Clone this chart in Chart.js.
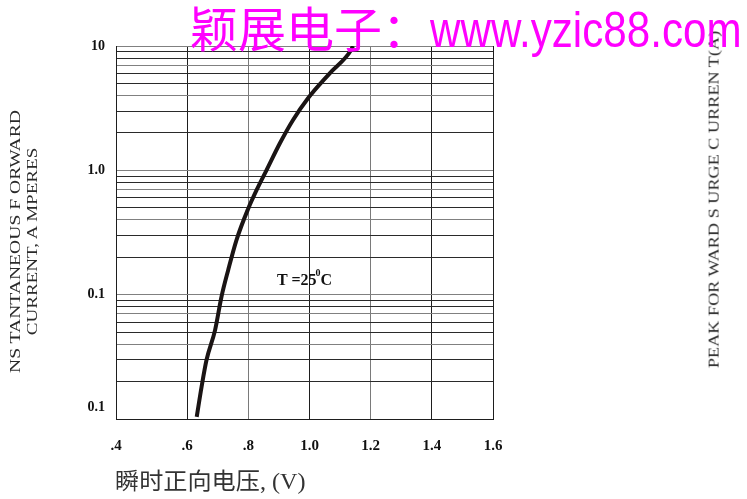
<!DOCTYPE html>
<html>
<head>
<meta charset="utf-8">
<script src="https://cdn.jsdelivr.net/npm/chart.js@4.4.1/dist/chart.umd.min.js"></script>
<style>
    body { margin: 0; background: #fff; }
    #wrap { position: relative; width: 747px; height: 499px; overflow: hidden; background: #fff; }
    #wrap canvas { position: absolute; left: 0; top: 0; }
    .lbl { position: absolute; white-space: nowrap; font-family: 'Liberation Serif', 'Times New Roman', serif; color: #2a2a2a; }
    .rot { transform-origin: center center; }
    .fit { transform-origin: left top; }
    .wm { color: #ff00ff; z-index: 5; }
    #wmCjk { left: 190px; top: 2px; font-family: 'Noto Sans CJK SC', sans-serif; font-size: 48px; line-height: 48px; }
    #wmUrl { left: 430px; top: 5px; font-family: 'Liberation Sans', Arial, sans-serif; font-size: 50px; line-height: 50px; }
    #temp { left: 277px; top: 270px; font-weight: bold; font-size: 16px; color: #111; }
    #temp sup { font-size: 10px; position: relative; top: -3px; margin-left: -1px; }
    #xtitle { left: 115px; top: 469px; font-size: 23px; line-height: 26px; font-family: 'Liberation Serif', 'Noto Sans CJK SC', serif; color: #333; }
</style>
</head>
<body>
<div id="wrap">
    <canvas id="ivChart" width="747" height="499"></canvas>
    <div class="lbl wm fit" id="wmCjk" data-len="240">颖展电子：</div>
    <div class="lbl wm fit" id="wmUrl" data-len="312">www.yzic88.com</div>
    <div class="lbl rot" data-cx="15" data-cy="241" data-len="263" style="font-size:15px">NS TANTANEOUS F ORWARD</div>
    <div class="lbl rot" data-cx="33" data-cy="241" data-len="188" style="font-size:15px">CURRENT, A MPERES</div>
    <div class="lbl rot" data-cx="714" data-cy="199" data-len="337" style="font-size:15px">PEAK FOR WARD S URGE C URREN T(A)</div>
    <div class="lbl" id="temp">T =25<sup>0</sup>C</div>
    <div class="lbl fit" id="xtitle" data-len="190">瞬时正向电压, (V)</div>
</div>
<script>
// Forward voltage (V) vs instantaneous forward current (A)
const voltage = [0.631, 0.647, 0.663, 0.691, 0.712, 0.734, 0.761, 0.799, 0.827, 0.859, 0.903, 0.946, 0.995, 1.066, 1.136, 1.142];
const current = [0.0104, 0.0182, 0.0298, 0.0519, 0.0962, 0.158, 0.275, 0.489, 0.695, 1.0, 1.65, 2.54, 3.80, 6.03, 9.29, 10];

// Axis ticks as printed on the sheet (left edge is drawn as ".4")
const xTickValues = [0.367, 0.6, 0.8, 1.0, 1.2, 1.4, 1.6];
const xTickLabels = ['.4', '.6', '.8', '1.0', '1.2', '1.4', '1.6'];
const yLabelValues = [10, 1, 0.1, 0.0125];
const yTickLabels = ['10', '1.0', '0.1', '0.1'];
const yDecades = [0.01, 0.1, 1];

document.addEventListener('DOMContentLoaded', function () {
    // log grid lines 1..9 per decade, plus the top line
    const yGrid = [];
    yDecades.forEach(d => {
        for (let m = 1; m <= 9; m++) yGrid.push(+(m * d).toPrecision(3));
    });
    yGrid.push(10);
    const yAll = yGrid.concat(yLabelValues.filter(v => !yGrid.includes(v))).sort((a, b) => a - b);

    const serif = "'Liberation Serif', 'Times New Roman', serif";

    new Chart(document.getElementById('ivChart'), {
        type: 'line',
        data: {
            datasets: [{
                data: voltage.map((v, i) => ({ x: v, y: current[i] })),
                borderColor: '#1a1414',
                borderWidth: 4,
                pointRadius: 0,
                cubicInterpolationMode: 'monotone',
                fill: false
            }]
        },
        options: {
            responsive: false,
            animation: false,
            layout: { padding: { top: 46, right: 254, left: 0, bottom: 0 } },
            plugins: { legend: { display: false }, tooltip: { enabled: false } },
            scales: {
                x: {
                    type: 'linear',
                    min: 0.367,
                    max: 1.6,
                    afterFit: scale => { scale.height = 80; },
                    afterBuildTicks: scale => { scale.ticks = xTickValues.map(v => ({ value: v })); },
                    grid: {
                        drawTicks: false,
                        color: ctx => (ctx.tick && (ctx.tick.value === 0.8 || ctx.tick.value === 1.2)) ? '#7a7a7a' : '#1e1e1e',
                        lineWidth: 1
                    },
                    border: { display: true, color: '#1e1e1e', width: 1 },
                    ticks: {
                        padding: 18,
                        color: '#111',
                        font: { family: serif, size: 15, weight: 'bold' },
                        autoSkip: false,
                        maxRotation: 0,
                        callback: (value, i) => xTickLabels[i]
                    }
                },
                y: {
                    type: 'logarithmic',
                    min: 0.01,
                    max: 10,
                    afterFit: scale => { scale.width = 116; },
                    afterBuildTicks: scale => { scale.ticks = yAll.map(v => ({ value: v })); },
                    grid: {
                        drawTicks: false,
                        color: ctx => {
                            if (!ctx.tick) return '#2a2a2a';
                            if (!yGrid.includes(ctx.tick.value)) return 'rgba(0,0,0,0)';
                            return (ctx.index % 3 === 1) ? '#808080' : '#2a2a2a';
                        },
                        lineWidth: 1
                    },
                    border: { display: true, color: '#1e1e1e', width: 1 },
                    ticks: {
                        padding: 11,
                        color: '#111',
                        font: { family: serif, size: 14, weight: 'bold' },
                        autoSkip: false,
                        callback: value => {
                            const k = yLabelValues.indexOf(value);
                            return k >= 0 ? yTickLabels[k] : '';
                        }
                    }
                }
            }
        }
    });

    // rotated axis titles, stretched to the length they have on the sheet
    document.querySelectorAll('.rot').forEach(el => {
        const w = el.offsetWidth, h = el.offsetHeight;
        const k = (+el.dataset.len) / w;
        el.style.left = (el.dataset.cx - w / 2) + 'px';
        el.style.top = (el.dataset.cy - h / 2) + 'px';
        el.style.transform = 'rotate(-90deg) scaleX(' + k.toFixed(3) + ')';
    });

    // horizontal texts squeezed/stretched to their width on the sheet
    document.querySelectorAll('.fit').forEach(el => {
        el.style.transform = 'scaleX(' + ((+el.dataset.len) / el.offsetWidth).toFixed(3) + ')';
    });
});
</script>
</body>
</html>
